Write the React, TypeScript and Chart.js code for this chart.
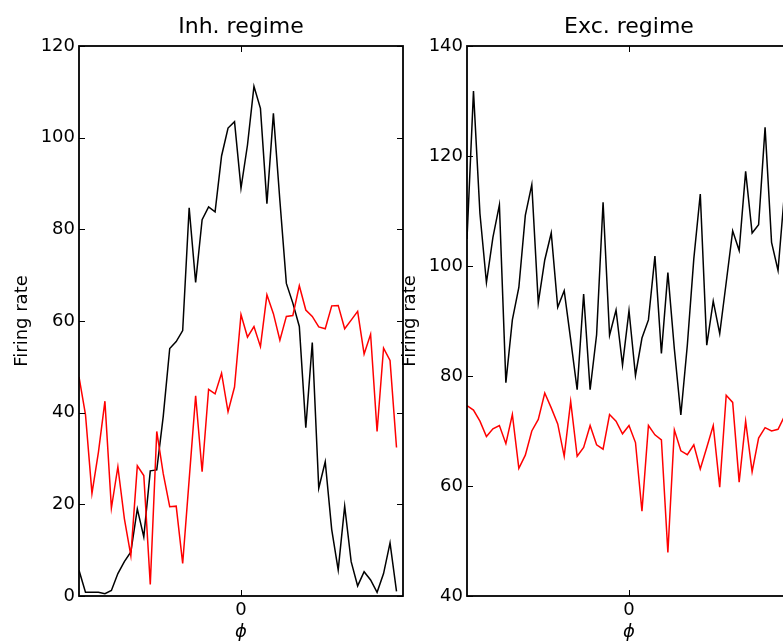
import { useEffect, useRef } from "react";
import { Chart, registerables } from "chart.js";

Chart.register(...registerables);

const N_PHASES = 50;
const phi = Array.from({ length: N_PHASES }, (_, k) => -Math.PI + (2 * Math.PI * k) / N_PHASES);

const inhBlack = [5.6, 0.8, 0.8, 0.8, 0.5, 1.2, 4.9, 7.5, 9.6, 19.0, 12.9, 27.3, 27.5, 39.2, 54.0, 55.5, 57.9, 84.7, 68.4, 82.1, 84.9, 83.8, 96.0, 102.1, 103.5, 89.0, 98.4, 111.2, 106.4, 85.6, 105.3, 86.3, 68.2, 63.9, 58.8, 36.7, 55.3, 23.5, 29.3, 14.5, 5.7, 19.6, 7.5, 2.2, 5.3, 3.5, 0.8, 4.9, 11.6, 1.0];
const inhRed = [47.8, 39.6, 22.4, 31.4, 42.5, 19.2, 28.2, 16.9, 8.8, 28.4, 26.3, 2.5, 35.9, 26.7, 19.5, 19.6, 7.1, 25.4, 43.7, 27.1, 45.1, 44.1, 48.6, 40.2, 45.6, 61.4, 56.5, 58.8, 54.4, 65.7, 61.6, 55.8, 61.0, 61.2, 67.7, 62.4, 61.0, 58.7, 58.3, 63.3, 63.4, 58.3, 60.2, 62.1, 52.8, 57.1, 35.9, 54.1, 51.4, 32.4];
const excBlack = [104.9, 131.8, 109.5, 97.0, 105.2, 111.1, 78.8, 90.2, 96.1, 109.2, 114.8, 93.3, 101.1, 106.0, 92.5, 95.5, 86.6, 77.5, 94.9, 77.5, 87.5, 111.6, 87.4, 92.0, 82.0, 91.9, 80.1, 86.9, 90.2, 101.8, 84.1, 98.8, 84.9, 72.9, 85.6, 101.3, 113.1, 85.6, 93.6, 87.7, 97.0, 106.4, 102.8, 117.2, 106.0, 107.5, 125.2, 104.3, 99.2, 113.4];
const excRed = [74.6, 73.8, 71.8, 69.0, 70.4, 71.0, 67.7, 73.0, 63.2, 65.6, 70.0, 72.1, 76.9, 74.2, 71.3, 65.4, 75.4, 65.4, 67.0, 71.0, 67.5, 66.7, 73.0, 71.8, 69.5, 71.0, 67.9, 55.4, 71.0, 69.3, 68.4, 47.9, 70.2, 66.4, 65.7, 67.5, 63.1, 67.0, 71.0, 59.8, 76.5, 75.2, 60.7, 71.8, 62.6, 68.7, 70.6, 70.0, 70.3, 72.7];

const inhYTicks = [0, 20, 40, 60, 80, 100, 120];
const excYTicks = [40, 60, 80, 100, 120, 140];
const xTicks = [0];

const FONT = '"DejaVu Sans", "Liberation Sans", sans-serif';

const framePlugin = {
  id: "mplFrame",
  afterDatasetsDraw(chart: any, _args: any, opts: any) {
    const { ctx, chartArea: a, scales } = chart;
    const L = 6;
    ctx.save();
    ctx.strokeStyle = "#000";
    ctx.lineWidth = 1;
    const seg = (x1: number, y1: number, x2: number, y2: number) => {
      ctx.beginPath();
      ctx.moveTo(x1, y1);
      ctx.lineTo(x2, y2);
      ctx.stroke();
    };
    scales.y.ticks.forEach((t: any) => {
      const y = Math.round(scales.y.getPixelForValue(t.value)) + 0.5;
      seg(a.left, y, a.left + L, y);
      seg(a.right - L, y, a.right, y);
    });
    scales.x.ticks.forEach((t: any) => {
      const x = Math.round(scales.x.getPixelForValue(t.value)) + 0.5;
      seg(x, a.top, x, a.top + L);
      seg(x, a.bottom - L, x, a.bottom);
    });
    ctx.lineWidth = 1.8;
    ctx.strokeRect(a.left, a.top, a.right - a.left, a.bottom - a.top);
    ctx.fillStyle = "#000";
    ctx.font = `22px ${FONT}`;
    ctx.textAlign = "center";
    ctx.textBaseline = "alphabetic";
    ctx.fillText(opts.text, (a.left + a.right) / 2, 33);
    ctx.restore();
  },
};

function makeConfig(title: string, black: number[], red: number[], yMin: number, yMax: number, yTicks: number[]) {
  return {
    type: "line",
    data: {
      datasets: [
        {
          data: red.map((v, i) => ({ x: phi[i], y: v })),
          borderColor: "#ff0000",
          borderWidth: 1.5,
          pointRadius: 0,
          tension: 0,
          fill: false,
        },
        {
          data: black.map((v, i) => ({ x: phi[i], y: v })),
          borderColor: "#000000",
          borderWidth: 1.5,
          pointRadius: 0,
          tension: 0,
          fill: false,
        },
      ],
    },
    options: {
      animation: false,
      responsive: false,
      maintainAspectRatio: false,
      devicePixelRatio: 1,
      layout: { padding: { top: 46, right: 27, left: 0, bottom: 0 } },
      plugins: {
        legend: { display: false },
        tooltip: { enabled: false },
        title: { display: false },
        mplFrame: { text: title },
      },
      scales: {
        x: {
          type: "linear",
          min: -Math.PI,
          max: Math.PI,
          grid: { display: false, drawTicks: false },
          border: { display: false },
          afterBuildTicks: (s: any) => {
            s.ticks = xTicks.map((v) => ({ value: v }));
          },
          afterFit: (s: any) => {
            s.height = 48;
          },
          ticks: {
            color: "#000",
            font: { family: FONT, size: 18 },
            padding: 4,
            maxRotation: 0,
            callback: (v: any) => String(v),
          },
          title: {
            display: true,
            text: "ϕ",
            color: "#000",
            font: { family: FONT, size: 18, style: "italic" },
            padding: { top: 0, bottom: 1 },
          },
        },
        y: {
          type: "linear",
          min: yMin,
          max: yMax,
          grid: { display: false, drawTicks: false },
          border: { display: false },
          afterBuildTicks: (s: any) => {
            s.ticks = yTicks.map((v) => ({ value: v }));
          },
          afterFit: (s: any) => {
            s.width = 79;
          },
          ticks: {
            color: "#000",
            font: { family: FONT, size: 18 },
            padding: 4,
            callback: (v: any) => String(v),
          },
          title: {
            display: true,
            text: "Firing rate",
            color: "#000",
            font: { family: FONT, size: 18 },
            padding: { top: 12, bottom: 0 },
          },
        },
      },
    },
    plugins: [framePlugin],
  } as any;
}

export default function App() {
  const leftRef = useRef<HTMLCanvasElement | null>(null);
  const rightRef = useRef<HTMLCanvasElement | null>(null);

  useEffect(() => {
    const charts: Chart[] = [];
    if (leftRef.current) {
      charts.push(new Chart(leftRef.current, makeConfig("Inh. regime", inhBlack, inhRed, 0, 120, inhYTicks)));
    }
    if (rightRef.current) {
      charts.push(new Chart(rightRef.current, makeConfig("Exc. regime", excBlack, excRed, 40, 140, excYTicks)));
    }
    return () => charts.forEach((c) => c.destroy());
  }, []);

  return (
    <div
      style={{
        position: "fixed",
        left: 0,
        top: 0,
        width: 783,
        height: 644,
        overflow: "hidden",
        background: "#fff",
      }}
    >
      <canvas
        ref={leftRef}
        width={430}
        height={644}
        style={{ position: "absolute", left: 0, top: 0, width: 430, height: 644 }}
      />
      <canvas
        ref={rightRef}
        width={430}
        height={644}
        style={{ position: "absolute", left: 388, top: 0, width: 430, height: 644 }}
      />
    </div>
  );
}
